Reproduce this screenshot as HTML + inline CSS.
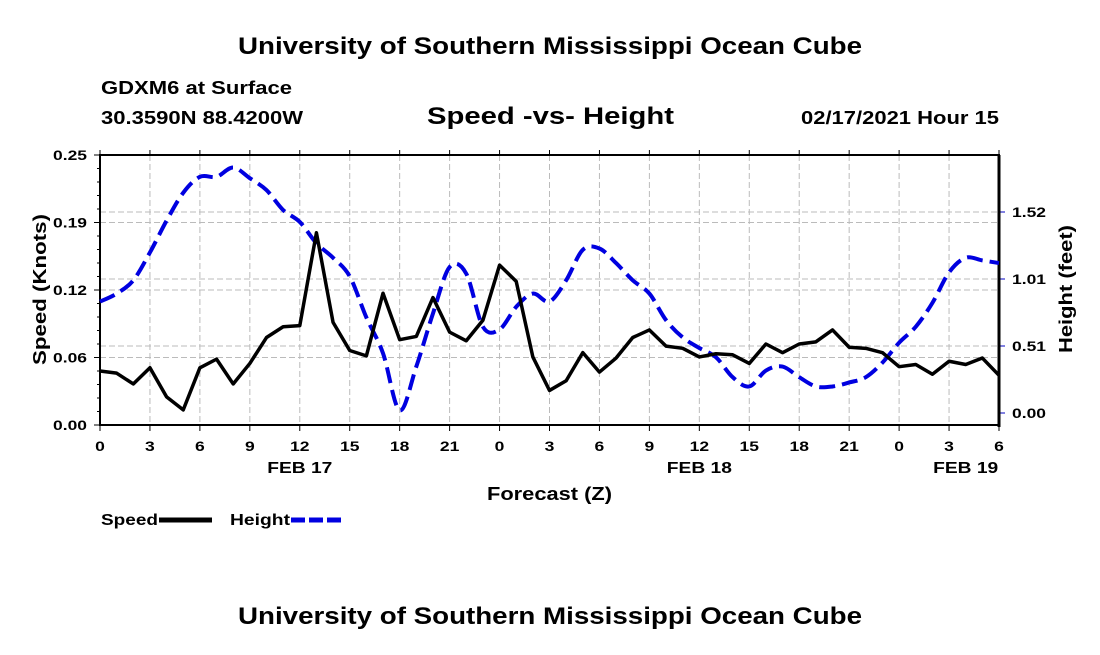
<!DOCTYPE html>
<html><head><meta charset="utf-8"><style>
body{margin:0;background:#fff;width:1100px;height:650px;overflow:hidden;font-family:"Liberation Sans",sans-serif}
svg text{font-family:"Liberation Sans",sans-serif;font-weight:bold;fill:#000}
</style></head><body>
<svg id="chart" width="1100" height="650">
<text x="550" y="54" font-size="24" text-anchor="middle" textLength="624" lengthAdjust="spacingAndGlyphs">University of Southern Mississippi Ocean Cube</text>
<text x="101" y="94" font-size="18" textLength="191" lengthAdjust="spacingAndGlyphs">GDXM6 at Surface</text>
<text x="101" y="124" font-size="18" textLength="202" lengthAdjust="spacingAndGlyphs">30.3590N 88.4200W</text>
<text x="427" y="124" font-size="24" textLength="247" lengthAdjust="spacingAndGlyphs">Speed -vs- Height</text>
<text x="801" y="124" font-size="18" textLength="198" lengthAdjust="spacingAndGlyphs">02/17/2021 Hour 15</text>
<g id="grid"></g><g id="axes"></g><g id="series"></g>
<text x="487" y="500" font-size="18" textLength="125" lengthAdjust="spacingAndGlyphs">Forecast (Z)</text>
<text transform="translate(46,365) rotate(-90)" font-size="18" textLength="151" lengthAdjust="spacingAndGlyphs">Speed (Knots)</text>
<text transform="translate(1072,353) rotate(-90)" font-size="18" textLength="128" lengthAdjust="spacingAndGlyphs">Height (feet)</text>
<g>
<text x="101" y="525" font-size="16" textLength="57" lengthAdjust="spacingAndGlyphs">Speed</text>
<line x1="159" y1="520" x2="212" y2="520" stroke="#000" stroke-width="5"/>
<text x="230" y="525" font-size="16" textLength="60" lengthAdjust="spacingAndGlyphs">Height</text>
<line x1="291" y1="520" x2="342" y2="520" stroke="#0000e0" stroke-width="5" stroke-dasharray="14,4"/>
</g>
<text x="550" y="624" font-size="24" text-anchor="middle" textLength="624" lengthAdjust="spacingAndGlyphs">University of Southern Mississippi Ocean Cube</text>
</svg>
<script>
const hours=[];for(let i=0;i<=54;i++)hours.push(i);
const speed=[0.050,0.048,0.038,0.053,0.026,0.014,0.053,0.061,0.038,0.057,0.081,0.091,0.092,0.178,0.095,0.069,0.064,0.122,0.079,0.082,0.118,0.086,0.078,0.097,0.148,0.133,0.063,0.032,0.041,0.067,0.049,0.062,0.081,0.088,0.073,0.071,0.063,0.066,0.065,0.057,0.075,0.067,0.075,0.077,0.088,0.072,0.071,0.067,0.054,0.056,0.047,0.059,0.056,0.062,0.046];
const height=[0.84,0.90,1.00,1.21,1.45,1.66,1.78,1.78,1.85,1.77,1.68,1.53,1.44,1.28,1.17,1.03,0.72,0.45,0.02,0.35,0.75,1.10,1.05,0.65,0.63,0.80,0.90,0.84,1.00,1.23,1.24,1.13,1.00,0.90,0.70,0.57,0.49,0.42,0.27,0.20,0.32,0.35,0.27,0.20,0.20,0.23,0.27,0.38,0.53,0.65,0.83,1.06,1.17,1.15,1.13];
const xTickLabels=["0","3","6","9","12","15","18","21","0","3","6","9","12","15","18","21","0","3","6"];
const speedTicks=[0,0.0625,0.125,0.1875,0.25];
const speedTickLabels=["0.00","0.06","0.12","0.19","0.25"];
const heightTicks=[0,0.505,1.01,1.515];
const heightTickLabels=["0.00","0.51","1.01","1.52"];
const dayLabels=[{h:12,t:"FEB 17"},{h:36,t:"FEB 18"},{h:52,t:"FEB 19"}];
const L=100,R=999,T=155,B=425;
const X=h=>L+h*(R-L)/54;
const YS=v=>B-v*(B-T)/0.25;
const YH=v=>413-v*134/1.01;
const NS="http://www.w3.org/2000/svg";
function mk(tag,attrs,parent){const e=document.createElementNS(NS,tag);for(const k in attrs)e.setAttribute(k,attrs[k]);parent.appendChild(e);return e;}
function widen(t,f){const w=t.getComputedTextLength();t.setAttribute('textLength',w*f);t.setAttribute('lengthAdjust','spacingAndGlyphs');}
const grid=document.getElementById('grid'),axes=document.getElementById('axes'),series=document.getElementById('series');
xTickLabels.forEach((t,i)=>{const x=X(i*3);
 if(i>0&&i<xTickLabels.length-1){const g=mk('line',{x1:x,y1:T,x2:x,y2:B,stroke:'#bbb','stroke-dasharray':'6,3'},grid);
 
 }
 mk('line',{x1:x,y1:B,x2:x,y2:B+6,stroke:'#000'},axes);
 mk('line',{x1:x,y1:T,x2:x,y2:T-5,stroke:'#000'},axes);
 const tx=mk('text',{x:x,y:451,'font-size':14,'text-anchor':'middle'},axes);tx.textContent=t;
 
 widen(tx,1.25);});
dayLabels.forEach(d=>{const tx=mk('text',{x:X(d.h),y:473,'font-size':16,'text-anchor':'middle'},axes);tx.textContent=d.t;
 
 widen(tx,1.2);});
speedTicks.forEach((v,i)=>{const y=YS(v);
 if(i>0&&i<speedTicks.length-1){const g=mk('line',{x1:L,y1:y,x2:R,y2:y,stroke:'#bbb','stroke-dasharray':'6,3'},grid);
 
 }
 mk('line',{x1:L-6,y1:y,x2:L,y2:y,stroke:'#000'},axes);
 const tx=mk('text',{x:53,y:y+5,'font-size':14},axes);tx.textContent=speedTickLabels[i];
 
 tx.setAttribute('textLength',34);tx.setAttribute('lengthAdjust','spacingAndGlyphs');});
for(let v=0;v<=0.25;v+=0.0125)mk('line',{x1:L-3,y1:YS(v),x2:L,y2:YS(v),stroke:'#000'},axes);
heightTicks.forEach((v,i)=>{const y=YH(v);
 if(i>0){const g=mk('line',{x1:L,y1:y,x2:R,y2:y,stroke:'#bbb','stroke-dasharray':'6,3'},grid);
 
 }
 mk('line',{x1:R,y1:y,x2:R+6,y2:y,stroke:'#0000c0'},axes);
 const tx=mk('text',{x:1012,y:y+5,'font-size':14},axes);tx.textContent=heightTickLabels[i];
 
 tx.setAttribute('textLength',34);tx.setAttribute('lengthAdjust','spacingAndGlyphs');});
mk('rect',{x:L,y:T,width:R-L,height:B-T,fill:'none',stroke:'#000','stroke-width':2},axes);
mk('line',{x1:R,y1:T,x2:R,y2:B+2,stroke:'#000','stroke-width':3},axes);
// smooth height curve (Catmull-Rom)
const hpts=height.map((v,i)=>[X(hours[i]),YH(v)]);
let d='M'+hpts[0][0]+','+hpts[0][1];
for(let i=0;i<hpts.length-1;i++){const p0=hpts[Math.max(0,i-1)],p1=hpts[i],p2=hpts[i+1],p3=hpts[Math.min(hpts.length-1,i+2)];
 d+=' C'+(p1[0]+(p2[0]-p0[0])/6)+','+(p1[1]+(p2[1]-p0[1])/6)+' '+(p2[0]-(p3[0]-p1[0])/6)+','+(p2[1]-(p3[1]-p1[1])/6)+' '+p2[0]+','+p2[1];}
const hp=mk('path',{d:d,fill:'none',stroke:'#0000e0','stroke-width':4,'stroke-dasharray':'16,7'},series);


const sp=mk('polyline',{points:speed.map((v,i)=>X(hours[i])+','+YS(v)).join(' '),fill:'none',stroke:'#000','stroke-width':3.5,'stroke-linejoin':'round'},series);


</script>
</body></html>
